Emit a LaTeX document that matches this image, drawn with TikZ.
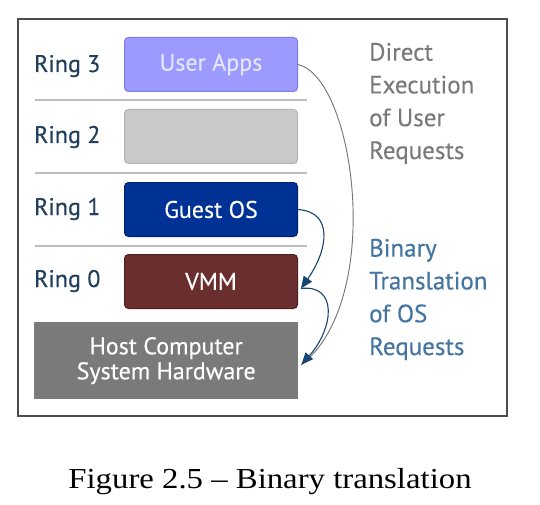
\documentclass[tikz,border=0pt]{standalone}
\usepackage{fontspec}
\setmainfont{Liberation Serif}
\newfontfamily\diagfont[FakeBold=0.3]{PT Sans}
\usetikzlibrary{arrows.meta}
\definecolor{ringtxt}{HTML}{22405E}
\definecolor{userfill}{HTML}{9A9AFF}
\definecolor{userdraw}{HTML}{7B7BEF}
\definecolor{usertxt}{HTML}{E4E4FF}
\definecolor{r2fill}{HTML}{C9C9C9}
\definecolor{r2draw}{HTML}{B4B4B4}
\definecolor{gfill}{HTML}{003296}
\definecolor{gdraw}{HTML}{00246E}
\definecolor{vfill}{HTML}{6A2E2E}
\definecolor{vdraw}{HTML}{4E1F1F}
\definecolor{hfill}{HTML}{7A7A7A}
\definecolor{greytxt}{HTML}{7A7A7A}
\definecolor{bluetxt}{HTML}{4475A2}
\definecolor{arrblue}{HTML}{17456F}
\definecolor{sepline}{HTML}{BDBDBD}
\tikzset{
  ringlabel/.style={anchor=base west, text=ringtxt, font=\diagfont\fontsize{24}{28}\selectfont, inner sep=0pt},
  ringbox/.style={rounded corners=4pt, line width=1pt, minimum width=173pt, minimum height=54pt, anchor=north west, font=\diagfont\fontsize{24}{28}\selectfont},
  sidetext/.style={anchor=base west, align=left, inner sep=0pt, font=\diagfont\fontsize{25}{32.8}\selectfont},
  arr/.style={draw=arrblue, line width=1.1pt, -{Triangle[length=12pt,width=10pt]}},
}
\begin{document}
\begin{tikzpicture}[x=1pt,y=-1pt]
\useasboundingbox (0,0) rectangle (540,505);
\fill[white] (0,0) rectangle (540,505);
\draw[draw=black!70, line width=1.2pt] (18,19) rectangle (507,416);
% separators
\draw[sepline, line width=1.3pt] (35,100) -- (307,100);
\draw[sepline, line width=1.3pt] (35,173) -- (307,173);
\draw[sepline, line width=1.3pt] (35,246) -- (307,246);
% ring labels
\node[ringlabel] (r3) at (34,72) {Ring 3};
\node[ringlabel] (r2) at (34,143) {Ring 2};
\node[ringlabel] (r1) at (34,215) {Ring 1};
\node[ringlabel] (r0) at (34,287) {Ring 0};
% boxes
\node[ringbox, fill=userfill, draw=userdraw, text=usertxt] (user) at (124,37) {User Apps};
\node[ringbox, fill=r2fill, draw=r2draw] (ring2) at (124,109) {};
\node[ringbox, fill=gfill, draw=gdraw, text=white] (guest) at (124,182) {Guest OS};
\node[ringbox, fill=vfill, draw=vdraw, text=white] (vmm) at (124,254) {VMM};
\node[fill=hfill, anchor=north west, minimum width=264pt, minimum height=77pt, align=center, text=white, font=\diagfont\fontsize{24}{25}\selectfont] (host) at (34,322) {Host Computer\\System Hardware};
% side texts (base anchor = baseline of last line)
\node[sidetext, text=greytxt] (direct) at (369,159) {Direct\\Execution\\of User\\Requests};
\node[sidetext, text=bluetxt] (binary) at (369,355) {Binary\\Translation\\of OS\\Requests};
% connectors
\coordinate (hostin) at ([xshift=3pt,yshift=-4pt]host.east);
\coordinate (vmmin) at ([xshift=3pt,yshift=-7pt]vmm.east);
\draw[draw=black!55, line width=0.9pt] (user.east) .. controls (355,78) and (385,300) .. (hostin);
\draw[arr] (guest.east) .. controls (334,212) and (328,250) .. (vmmin);
\draw[arr] (vmmin) .. controls (338,284) and (334,328) .. (hostin);
% caption
\node[anchor=base, inner sep=0pt] (caption) at (270,488) {\scalebox{1.13}[1]{\fontsize{29}{32}\selectfont Figure 2.5 – Binary translation}};
\end{tikzpicture}
\end{document}
